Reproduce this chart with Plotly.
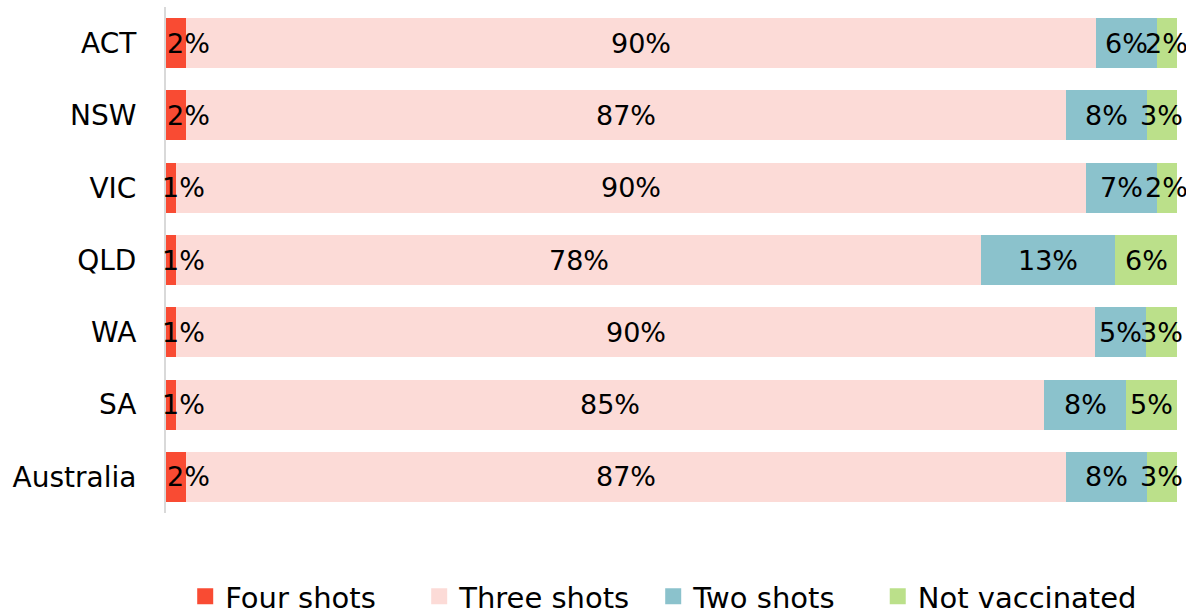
import plotly.graph_objects as go

categories = ["ACT", "NSW", "VIC", "QLD", "WA", "SA", "Australia"]
four_shots = [2, 2, 1, 1, 1, 1, 2]
three_shots = [90, 87, 90, 78, 90, 85, 87]
two_shots = [6, 8, 7, 13, 5, 8, 8]
not_vaccinated = [2, 3, 2, 6, 3, 5, 3]

series = [
    ("Four shots", four_shots, "#F94B33"),
    ("Three shots", three_shots, "#FCDBD7"),
    ("Two shots", two_shots, "#8BC2CC"),
    ("Not vaccinated", not_vaccinated, "#BBE08A"),
]

FONT = "DejaVu Sans"
LABEL_FS = 27
TICK_FS = 28
LEGEND_FS = 29

fig = go.Figure()
for k, (name, vals, color) in enumerate(series):
    fig.add_trace(go.Bar(
        y=categories, x=vals, name=name, orientation="h",
        marker=dict(color=color, line=dict(width=0)),
        textposition="none", showlegend=False, hoverinfo="skip",
    ))
    # legend entry with a larger square symbol
    fig.add_trace(go.Scatter(
        x=[None], y=[None], mode="markers", name=name,
        marker=dict(symbol="square", size=16, color=color),
        showlegend=True, legend="legend2" if k == 3 else "legend",
    ))

# data labels, centred on each (normalised) segment
totals = [sum(s[1][i] for s in series) for i in range(len(categories))]
annotations = []
for i, cat in enumerate(categories):
    start = 0.0
    for k, (name, vals, color) in enumerate(series):
        w = vals[i] / totals[i] * 100
        annotations.append(dict(
            x=start + w / 2, y=cat, xref="x", yref="y",
            text=f"{vals[i]}%", showarrow=False,
            xshift=12 if k == 0 else 0,
            font=dict(family=FONT, size=LABEL_FS, color="black"),
        ))
        start += w

legend_common = dict(orientation="h", yanchor="middle", y=-0.165, xanchor="left",
                     font=dict(family=FONT, size=LEGEND_FS, color="black"),
                     traceorder="normal", bgcolor="rgba(0,0,0,0)")

fig.update_layout(
    barmode="stack", barnorm="percent", bargap=0.31,
    width=1186, height=612,
    margin=dict(l=166, r=9, t=7, b=99, autoexpand=False),
    paper_bgcolor="white", plot_bgcolor="white",
    font=dict(family=FONT, size=TICK_FS, color="black"),
    annotations=annotations,
    legend=dict(x=0.019, entrywidth=189, entrywidthmode="pixels", **legend_common),
    legend2=dict(x=0.704, **legend_common),
    showlegend=True,
)
fig.update_xaxes(range=[0, 100], visible=False, showgrid=False, zeroline=False)
fig.update_yaxes(autorange="reversed", showgrid=False, zeroline=False, automargin=False,
                 showline=True, linecolor="#D9D9D9", linewidth=2,
                 ticks="", ticklabelstandoff=22,
                 tickfont=dict(family=FONT, size=TICK_FS, color="black"))

fig.write_html("out.html", config={"displayModeBar": False},
               post_script="document.body.style.margin='0';document.body.style.overflow='hidden';")
